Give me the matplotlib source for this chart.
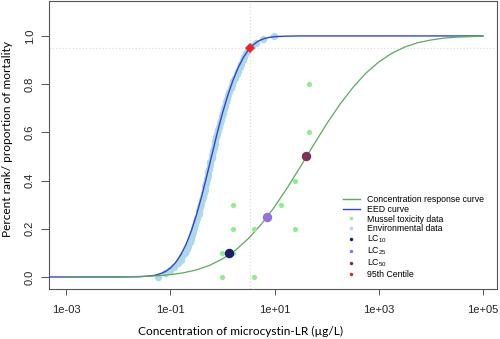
import matplotlib
matplotlib.use("Agg")
import matplotlib.pyplot as plt
import numpy as np
from matplotlib.lines import Line2D

# concentration response curve (log10 conc, proportion)
cr_log = [-3, -2.5, -2, -1.5, -1.25, -1, -0.75, -0.5, -0.25, 0, 0.25, 0.5,
          0.75, 1, 1.25, 1.5, 1.75, 2, 2.25, 2.5, 2.75, 3, 3.25, 3.5, 3.75,
          4, 4.25, 4.5, 5]
cr_p = [0.0, 0.0001, 0.0006, 0.0027, 0.0052, 0.0098, 0.0174, 0.0294, 0.048,
        0.075, 0.111, 0.160, 0.220, 0.291, 0.372, 0.459, 0.548, 0.635, 0.715,
        0.785, 0.845, 0.892, 0.928, 0.954, 0.972, 0.983, 0.991, 0.995, 0.999]

# EED curve
eed_log = [-3.33, -2, -1.6, -1.4, -1.3, -1.2, -1.1, -1.0, -0.9, -0.8, -0.7,
           -0.6, -0.5, -0.4, -0.3, -0.2, -0.1, 0.0, 0.1, 0.2, 0.3, 0.4, 0.5,
           0.6, 0.7, 0.8, 0.9, 1.0, 1.2, 1.5, 2, 5]
eed_p = [0.0, 0.0, 0.001, 0.004, 0.007, 0.013, 0.022, 0.037, 0.060, 0.092,
         0.135, 0.190, 0.257, 0.334, 0.420, 0.509, 0.598, 0.680, 0.752,
         0.815, 0.868, 0.910, 0.943, 0.965, 0.980, 0.989, 0.994, 0.997,
         0.999, 1.0, 1.0, 1.0]

# environmental data (ug/L), plotted against percent rank
env_conc = [0.059, 0.079, 0.10, 0.117, 0.141, 0.158, 0.170, 0.191, 0.204,
            0.219, 0.234, 0.245, 0.257, 0.275, 0.288, 0.302, 0.316, 0.331,
            0.347, 0.355, 0.372, 0.389, 0.407, 0.417, 0.437, 0.457, 0.468,
            0.490, 0.501, 0.525, 0.537, 0.550, 0.575, 0.589, 0.617, 0.631,
            0.646, 0.676, 0.708, 0.724, 0.759, 0.794, 0.813, 0.851, 0.891,
            0.933, 0.977, 1.02, 1.07, 1.12, 1.17, 1.23, 1.29, 1.35, 1.45,
            1.55, 1.62, 1.74, 1.86, 2.00, 2.14, 2.29, 2.45, 2.63, 2.88, 3.16,
            3.63, 4.37, 6.03, 9.55]

# mussel toxicity data
mussel_conc = [1.0, 1.0, 1.6, 1.6, 1.6, 4.1, 4.1, 13.5, 25, 25, 45, 45]
mussel_mort = [0.0, 0.1, 0.1, 0.2, 0.3, 0.0, 0.2, 0.3, 0.2, 0.4, 0.6, 0.8]

lc_conc = [1.36, 7.3, 41]
lc_p = [0.1, 0.25, 0.5]
lc_colors = ['#1c1c6a', '#9370db', '#7f2f5c']

centile_conc = 3.45
centile_p = 0.95

xticks = [1e-3, 1e-1, 1e1, 1e3, 1e5]
xtick_labels = ['1e-03', '1e-01', '1e+01', '1e+03', '1e+05']
yticks = [0.0, 0.2, 0.4, 0.6, 0.8, 1.0]

tick_font = 'Liberation Sans'
label_font = 'Lato'

fig = plt.figure(figsize=(5, 3.39), dpi=100)
ax = fig.add_axes([0.098, 0.1475, 0.896, 0.8496])

ax.axhline(centile_p, color='#dddddd', ls=':', lw=0.9, zorder=0)
ax.axvline(centile_conc, color='#dddddd', ls=':', lw=0.9, zorder=0)

n = len(env_conc)
env_rank = np.arange(n) / (n - 1)
ax.plot(env_conc, env_rank, 'o', color='#add8e6', ms=5.3, mew=0, zorder=2)

ax.plot(np.power(10.0, eed_log), eed_p, color='#3242d8', lw=1.0, zorder=3)
ax.plot(np.power(10.0, cr_log), cr_p, color='#5aaa5a', lw=0.9, zorder=3)

ax.plot(mussel_conc, mussel_mort, 'o', color='#90ee90', ms=3.8, mew=0, zorder=4)
for c, p, col in zip(lc_conc, lc_p, lc_colors):
    ax.plot(c, p, 'o', color=col, ms=6.8, mew=0, zorder=5)
ax.plot(centile_conc, centile_p, 'D', color='#ee2222', ms=5.2, mew=0, zorder=5)

ax.set_xscale('log')
ax.set_xlim(10 ** -3.33, 10 ** 5.27)
ax.set_ylim(-0.0498, 1.145)
ax.set_xticks(xticks)
ax.set_xticklabels(xtick_labels)
ax.xaxis.set_minor_locator(matplotlib.ticker.NullLocator())
ax.set_yticks(yticks)
ax.set_yticklabels(['%.1f' % v for v in yticks], rotation=90, va='center')

for s in ax.spines.values():
    s.set_color('#555555')
    s.set_linewidth(0.8)
ax.tick_params(axis='x', length=4, width=0.7, color='#555555', pad=7.5,
               labelsize=8, labelcolor='#222222')
ax.tick_params(axis='y', length=5.5, width=0.7, color='#555555', pad=4.5,
               labelsize=8, labelcolor='#222222')
for lab in ax.get_xticklabels() + ax.get_yticklabels():
    lab.set_family(tick_font)

fig.text(241 / 500, 1 - 331 / 339, 'Concentration of microcystin-LR (µg/L)',
         family=label_font, fontsize=8.6, ha='center', va='center')
fig.text(8 / 500, 1 - 139 / 339, 'Percent rank/ proportion of mortality',
         family=label_font, fontsize=8.6, ha='center', va='center', rotation=90)

handles = [
    Line2D([], [], color='#5aaa5a', lw=1.0),
    Line2D([], [], color='#3242d8', lw=1.0),
    Line2D([], [], ls='', marker='o', color='#90ee90', ms=2.5, mew=0),
    Line2D([], [], ls='', marker='o', color='#add8e6', ms=2.5, mew=0),
    Line2D([], [], ls='', marker='o', color=lc_colors[0], ms=2.5, mew=0),
    Line2D([], [], ls='', marker='o', color=lc_colors[1], ms=2.5, mew=0),
    Line2D([], [], ls='', marker='o', color=lc_colors[2], ms=2.5, mew=0),
    Line2D([], [], ls='', marker='o', color='#ee2222', ms=2.5, mew=0),
]
labels = ['Concentration response curve', 'EED curve', 'Mussel toxicity data',
          'Environmental data', 'LC$_{\\mathregular{10}}$',
          'LC$_{\\mathregular{25}}$', 'LC$_{\\mathregular{50}}$', '95th Centile']
leg = ax.legend(handles, labels, loc='upper left',
                bbox_to_anchor=(343 / 500, 1 - 195.5 / 339),
                bbox_transform=fig.transFigure, frameon=False, borderpad=0,
                borderaxespad=0, handlelength=1.9, handletextpad=0.8,
                labelspacing=0.06, prop={'family': tick_font, 'size': 6.3})

fig.savefig('out.png', dpi=100)
